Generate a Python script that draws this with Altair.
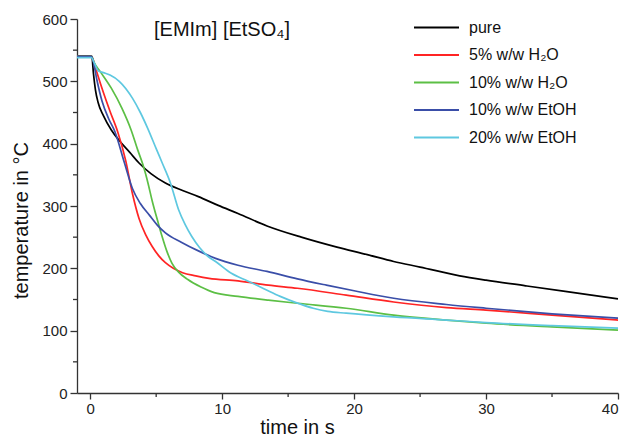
import altair as alt
import pandas as pd

# ---------------- data ----------------
series_names = ["pure", "5% w/w H₂O", "10% w/w H₂O", "10% w/w EtOH", "20% w/w EtOH"]
series_colors = ["#000000", "#ff2424", "#5cbf45", "#3a4ea8", "#5ec8e0"]

pure_t = [-1, 0, 0.12, 0.25, 0.4, 0.6, 1.0, 1.6, 2.2, 3.0, 3.7, 4.6, 5.7, 7.0, 8.2, 9.7, 11.2, 13.4, 16, 18.7, 21, 23, 25, 28, 30, 33, 36, 38, 40]
pure_T = [541, 541, 540, 512, 486, 466, 445, 422, 405, 386, 369, 352, 337, 325, 315, 301, 288, 268, 250, 234, 222, 211, 202, 188, 181, 172, 163, 157, 151]

h2o5_t = [-1, 0.1, 0.2, 0.5, 1.0, 1.5, 2.1, 2.7, 3.2, 3.7, 4.2, 4.7, 5.2, 5.7, 6.3, 7.0, 8.0, 9.0, 11.2, 13.5, 15.7, 19.4, 23, 27, 30, 35, 40]
h2o5_T = [540, 540, 536, 515, 482, 452, 418, 372, 320, 280, 254, 235, 220, 209, 200, 193, 188, 184, 180, 173, 168, 157, 146, 137, 133, 125, 117]

h2o10_t = [-1, 0.1, 0.3, 0.75, 1.6, 2.4, 3.1, 3.6, 4.0, 4.4, 4.7, 5.1, 5.45, 5.8, 6.2, 6.7, 7.4, 8.4, 9.4, 11.2, 13.5, 15.7, 19.4, 23, 27, 30, 35, 40]
h2o10_T = [540, 540, 530, 516, 489, 457, 422, 390, 366, 335, 308, 277, 251, 228, 208, 194, 182, 170, 161, 155, 149, 144, 136, 125, 117, 112, 106, 101]

etoh10_t = [-1, 0.1, 0.2, 0.5, 0.9, 1.4, 1.86, 2.6, 3.2, 3.8, 4.5, 5.1, 5.7, 6.9, 8.2, 9.5, 11.2, 13.4, 15.7, 17.9, 20, 23, 27, 30, 35, 40]
etoh10_T = [540, 540, 535, 503, 468, 440, 420, 369, 328, 304, 285, 269, 257, 242, 228, 216, 205, 195, 183, 173, 164, 152, 142, 136, 127, 120]

etoh20_t = [-1, 0.1, 0.3, 0.6, 1.0, 1.5, 2.2, 3.2, 3.8, 4.35, 5.0, 5.46, 6.08, 6.7, 7.2, 7.7, 8.3, 8.94, 9.5, 10.7, 11.9, 13.2, 14.4, 15.6, 16.9, 18, 19.4, 23, 27, 30, 35, 40]
etoh20_T = [538, 538, 530, 517, 514, 510, 500, 473, 450, 425, 392, 369, 337, 294, 270, 251, 233, 219, 211, 192, 180, 167, 155, 145, 136, 131, 128, 122, 117, 113, 108, 104]

x_major = [0, 10, 20, 30, 40]
x_minor = [5, 15, 25, 35]
y_major = [0, 100, 200, 300, 400, 500, 600]
y_minor = [50, 150, 250, 350, 450, 550]

title_text = "[EMIm] [EtSO₄]"

# ---------------- build table ----------------
all_t = [pure_t, h2o5_t, h2o10_t, etoh10_t, etoh20_t]
all_T = [pure_T, h2o5_T, h2o10_T, etoh10_T, etoh20_T]
rows = []
for name, ts, Ts in zip(series_names, all_t, all_T):
    for t, T in zip(ts, Ts):
        rows.append({"series": name, "t": t, "T": T})
df = pd.DataFrame(rows)

FONT = "Liberation Sans"
AX = "#333333"
W, H = 541, 374

x_scale = alt.Scale(domain=[-1, 40], nice=False, zero=False)
y_scale = alt.Scale(domain=[0, 600], nice=False, zero=False)

x_axis = alt.Axis(values=x_major, title="time in s", grid=False,
                  tickSize=6, labelPadding=2, labelFontSize=15,
                  titleFontSize=20, titleX=220, titleY=40,
                  titleBaseline="alphabetic", titleAlign="center")
y_axis = alt.Axis(values=y_major, title="temperature in °C", grid=False,
                  tickSize=7, labelPadding=3, labelFontSize=15,
                  titleFontSize=20, titleX=-50, titleY=201, titleAngle=270,
                  titleBaseline="alphabetic", titleAlign="center")

lines = alt.Chart(df).mark_line(strokeWidth=1.7, interpolate="monotone").encode(
    x=alt.X("t:Q", scale=x_scale, axis=x_axis),
    y=alt.Y("T:Q", scale=y_scale, axis=y_axis),
    color=alt.Color("series:N",
                    scale=alt.Scale(domain=series_names, range=series_colors),
                    legend=alt.Legend(title=None, orient="none", legendX=351, legendY=0,
                                      symbolType="M-3,0H3", symbolSize=225,
                                      symbolStrokeWidth=2, symbolFillColor="transparent",
                                      labelFontSize=16, labelFont=FONT, labelColor="#111",
                                      labelOffset=24, rowPadding=10.5, padding=0)),
)

y_minor_ticks = alt.Chart(pd.DataFrame({"v": y_minor})).mark_rule(color=AX, strokeWidth=1.3).encode(
    y=alt.Y("v:Q", scale=y_scale, axis=y_axis),
    x=alt.value(0), x2=alt.value(-4),
)
x_minor_ticks = alt.Chart(pd.DataFrame({"v": x_minor})).mark_rule(color=AX, strokeWidth=1.3).encode(
    x=alt.X("v:Q", scale=x_scale, axis=x_axis),
    y=alt.value(H), y2=alt.value(H + 4),
)

title_mark = alt.Chart(pd.DataFrame({"label": [title_text]})).mark_text(
    align="left", baseline="alphabetic", fontSize=20, font=FONT, color="#111"
).encode(x=alt.value(77), y=alt.value(17), text="label:N")

chart = alt.layer(lines, y_minor_ticks, x_minor_ticks, title_mark).properties(
    width=W, height=H,
    autosize=alt.AutoSizeParams(type="none"),
    padding={"left": 69, "top": 11, "right": 8, "bottom": 47},
).configure_view(stroke=None).configure_axis(
    labelFont=FONT, titleFont=FONT, titleFontWeight="normal",
    labelColor="#222", titleColor="#111",
    domainColor=AX, tickColor=AX, domainWidth=1.3, tickWidth=1.3,
)

chart.save("out.html", embed_options={"renderer": "svg", "actions": False})
